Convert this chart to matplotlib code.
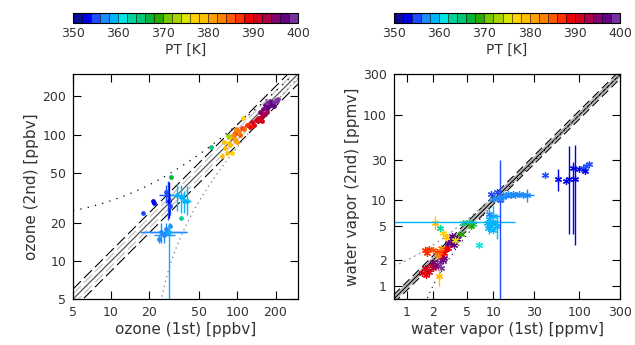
import numpy as np
import matplotlib
matplotlib.use("Agg")
import matplotlib.pyplot as plt
from matplotlib.colors import ListedColormap, BoundaryNorm
from matplotlib.ticker import FixedLocator, FixedFormatter, NullLocator
import matplotlib.colorbar as mcolorbar

plt.rcParams['font.family'] = ['DejaVu Sans']
TXT = '#333333'

# ===== colour scale (PT, 2 K bins) =====
pt_bounds = np.arange(350, 402, 2)
pt_colors = ['#0a0a96', '#0000e6', '#1e4bff', '#1e8cff', '#00b4ff',
             '#00e6e6', '#00d2a0', '#00c878', '#00b43c', '#28aa00',
             '#78c800', '#a8d200', '#dce600', '#ffd200', '#ffbe00',
             '#ffa000', '#ff8200', '#ff5a00', '#ff3200', '#f00000',
             '#d2001e', '#aa0046', '#82006e', '#640082', '#7832a0']
pt_ticks = [350, 360, 370, 380, 390, 400]

# ===== ozone panel =====
o3_x = [165, 170, 175, 180, 185, 190, 195, 200, 205, 185, 175, 170, 210, 195,
        150, 160, 155, 165, 145,
        120, 130, 140, 150, 135, 145, 160, 155, 125, 170,
        100, 108, 112, 118, 105, 95,
        92, 98, 88, 102, 96,
        75, 80, 85, 82, 90, 95, 78, 88, 100, 110, 85,
        84, 62, 30, 36,
        18, 22, 21.5,
        28, 28.5, 29, 27,
        33, 36, 38, 40,
        25, 26, 27, 28, 24, 29, 28.5]
o3_y = [170, 178, 182, 185, 180, 175, 182, 188, 185, 170, 165, 160, 190, 168,
        150, 160, 140, 145, 135,
        118, 125, 130, 135, 120, 128, 145, 128, 115, 150,
        108, 112, 110, 118, 100, 102,
        100, 110, 95, 105, 92,
        68, 78, 85, 72, 72, 90, 88, 83, 88, 135, 95,
        97, 80, 46, 22,
        24, 29, 30,
        33, 30, 27, 35,
        33, 32, 30, 30,
        17, 16, 18, 17, 15, 19, 17]
o3_pt = [397, 398, 399, 398, 397, 399, 398, 399, 398, 397, 396, 396, 399, 397,
         394, 394, 393, 394, 393,
         389, 390, 390, 391, 389, 390, 392, 391, 388, 392,
         385, 386, 385, 387, 384, 384,
         382, 382, 381, 383, 381,
         378, 379, 379, 378, 377, 380, 378, 379, 380, 377, 379,
         372, 364, 366, 362,
         355, 352, 352,
         354, 353, 354, 355,
         359, 359, 358, 359,
         356, 357, 356, 357, 356, 357, 359]
o3_xlo = [0] * 55 + [0, 0, 0, 4, 0, 0, 0, 4, 0, 0, 2, 8, 4, 0, 10, 0, 0, 0]
o3_xhi = [0] * 55 + [0, 0, 0, 4, 0, 0, 0, 5, 0, 0, 3, 15, 6, 0, 12, 0, 0, 0]
o3_ylo = [0] * 55 + [0, 0, 0, 12, 8, 4, 6, 8, 8, 6, 7, 3, 2, 2, 1, 1, 0, 12]
o3_yhi = [0] * 55 + [0, 0, 0, 10, 12, 5, 5, 8, 8, 6, 9, 3, 1, 2, 1, 1, 1, 3]

# ===== water vapour panel =====
h2o_x = [1.5, 1.6, 1.7, 1.8, 1.9, 2.0, 1.65,
         1.6, 1.8, 2.0, 1.7, 2.2,
         2.2, 2.4, 2.6, 2.3, 2.5, 2.7,
         2.0, 2.1, 2.5,
         2.6, 2.8, 3.0, 2.7, 2.4,
         2.3, 2.5,
         3.2, 3.4, 3.6, 3.3, 3.8, 3.0, 3.5,
         3.6, 4.2, 2.1, 2.6, 2.8, 2.35,
         4.5, 5.2, 5.8, 2.4, 6.8, 5.5,
         8.5, 9.0, 9.5, 10.0, 10.5, 11.0, 9.0, 10.0, 8.8, 10.0, 12.0,
         10.0, 11.0, 12.0, 13.0, 14.0, 15.0, 16.0, 17.0, 18.0, 20.0, 22.0, 25.0,
         9.5, 11.0, 40.0,
         56.0, 76.0, 70.0, 85.0, 90.0,
         100.0, 110.0, 115.0, 120.0, 130.0]
h2o_y = [1.4, 1.6, 1.5, 1.45, 1.7, 1.6, 1.35,
         2.6, 2.7, 2.6, 2.4, 2.5,
         1.8, 1.9, 2.0, 1.7, 1.6, 2.1,
         1.9, 1.7, 2.2,
         2.6, 2.7, 2.8, 2.4, 2.5,
         2.3, 2.8,
         3.3, 3.6, 3.4, 3.8, 3.5, 3.2, 3.0,
         3.4, 4.0, 5.5, 4.2, 3.7, 1.3,
         5.5, 5.6, 5.3, 4.8, 3.0, 5.0,
         5.5, 6.0, 5.0, 6.5, 5.5, 5.0, 7.0, 4.5, 4.8, 5.6, 10.0,
         10.5, 10.8, 11.0, 11.0, 11.5, 12.0, 11.5, 12.0, 11.5, 12.0, 11.5, 11.5,
         12.0, 12.5, 20.0,
         18.0, 18.0, 17.0, 24.0, 18.0,
         23.0, 24.0, 22.0, 25.0, 27.0]
h2o_pt = [390, 390, 389, 390, 391, 390, 389,
          386, 386, 385, 386, 387,
          398, 398, 397, 398, 399, 397,
          394, 394, 393,
          388, 388, 389, 388, 387,
          382, 382,
          396, 396, 397, 396, 397, 396, 397,
          374, 369, 378, 377, 378, 379,
          364, 364, 365, 363, 361, 368,
          358, 358, 358, 358, 358, 358, 357, 358, 358, 359, 355,
          357, 357, 357, 357, 357, 357, 357, 357, 357, 357, 357, 357,
          354, 354, 354,
          352, 353, 353, 352, 352,
          353, 354, 353, 354, 355]
h2o_xlo = [0] * 47 + [0, 0, 0, 1, 0, 0, 0, 0, 0, 9.3, 0,
                     0, 0, 0, 2, 0, 0, 0, 0, 0, 0, 0, 4,
                     0, 0, 0, 0, 0, 0, 0, 0, 0, 0, 0, 0, 0]
h2o_xhi = [0] * 47 + [0, 0, 0, 2, 0, 0, 0, 0, 0, 8, 0,
                     0, 0, 0, 3, 0, 0, 0, 0, 0, 0, 0, 5,
                     0, 0, 0, 0, 0, 0, 0, 0, 0, 0, 0, 0, 0]
h2o_ylo = [0] * 35 + [0, 0, 1.0, 0, 0, 0.3,
                     0, 0, 0, 0, 0, 0,
                     0, 2, 0, 1.5, 0, 1.5, 0, 0, 0, 0, 9.3,
                     0, 0, 0, 1.5, 0, 0, 0, 0, 0, 0, 0, 2,
                     0, 0, 0,
                     5, 14, 0, 20, 15,
                     0, 0, 0, 0, 0]
h2o_yhi = [0] * 35 + [0, 0, 1.0, 0, 0, 0.3,
                     0, 0, 0, 0, 0, 0,
                     0, 2, 0, 2, 0, 2, 0, 0, 0, 0, 20,
                     0, 0, 0, 1.5, 0, 0, 0, 0, 0, 0, 0, 2,
                     0, 0, 0,
                     5, 25, 0, 4, 27,
                     0, 0, 0, 0, 0]

cmap = ListedColormap(pt_colors)
norm = BoundaryNorm(pt_bounds, cmap.N)


def colorbar(fig, rect):
    cax = fig.add_axes(rect)
    cb = mcolorbar.ColorbarBase(cax, cmap=cmap, norm=norm, orientation='horizontal',
                                ticks=pt_ticks, drawedges=True)
    cb.dividers.set_linewidth(0.4)
    cb.outline.set_linewidth(0.8)
    cax.tick_params(length=0, labelsize=9, labelcolor=TXT, pad=3)
    cax.xaxis.set_minor_locator(NullLocator())
    cb.set_label('PT [K]', fontsize=10, color=TXT, labelpad=2)


def errpoints(ax, x, y, pt, xlo, xhi, ylo, yhi, marker, ms):
    for i in range(len(x)):
        c = cmap(norm(pt[i]))
        if xlo[i] or xhi[i] or ylo[i] or yhi[i]:
            ax.errorbar(x[i], y[i], xerr=[[xlo[i]], [xhi[i]]], yerr=[[ylo[i]], [yhi[i]]],
                        fmt='none', ecolor=c, elinewidth=1.0, capsize=0)
        ax.plot(x[i], y[i], marker=marker, color=c, ms=ms, mew=0.9, ls='none')


def style(ax, lim, ticks, labels, xlabel, ylabel):
    ax.set_xscale('log')
    ax.set_yscale('log')
    ax.set_xlim(lim)
    ax.set_ylim(lim)
    for axis in (ax.xaxis, ax.yaxis):
        axis.set_major_locator(FixedLocator(ticks))
        axis.set_major_formatter(FixedFormatter(labels))
        axis.set_minor_locator(NullLocator())
    ax.tick_params(direction='in', length=6, width=0.8, top=True, right=True,
                   labelsize=9, labelcolor=TXT, pad=5)
    for s in ax.spines.values():
        s.set_linewidth(0.9)
    ax.set_xlabel(xlabel, fontsize=11, color=TXT, labelpad=2)
    ax.set_ylabel(ylabel, fontsize=11, color=TXT, labelpad=2)


fig = plt.figure(figsize=(6.35, 3.45), dpi=100)

# ----- left: ozone -----
ax1 = fig.add_axes([0.115, 0.133, 0.354, 0.652])
xs = np.logspace(np.log10(5), np.log10(300), 300)
ax1.plot(xs, xs * 1.1, color='#bbbbbb', lw=0.8, dashes=(10, 4))
ax1.plot(xs, xs / 1.1, color='#bbbbbb', lw=0.8, dashes=(10, 4))
ax1.plot(xs, xs * 1.2, color='k', lw=0.8, dashes=(10, 4))
ax1.plot(xs, xs / 1.2, color='k', lw=0.8, dashes=(10, 4))
ax1.plot(xs, xs, color='#555555', lw=0.9)
ax1.plot(xs, xs + 20, color='k', lw=0.9, ls=(0, (1, 5)))
lo = xs - 20
ax1.plot(xs[lo > 0], lo[lo > 0], color='#777777', lw=0.9, ls=(0, (1, 3)))
errpoints(ax1, o3_x, o3_y, o3_pt, o3_xlo, o3_xhi, o3_ylo, o3_yhi, 'o', 2.5)
style(ax1, (5, 300), [5, 10, 20, 50, 100, 200], ['5', '10', '20', '50', '100', '200'],
      'ozone (1st) [ppbv]', 'ozone (2nd) [ppbv]')
colorbar(fig, [0.115, 0.933, 0.354, 0.03])

# ----- right: water vapour -----
ax2 = fig.add_axes([0.620, 0.133, 0.357, 0.652])
xs = np.logspace(np.log10(0.7), np.log10(300), 300)
ax2.plot(xs, xs * 1.06, color='#aaaaaa', lw=0.8)
ax2.plot(xs, xs / 1.06, color='#aaaaaa', lw=0.8)
ax2.plot(xs, xs * 1.12, color='k', lw=0.8, dashes=(8, 4))
ax2.plot(xs, xs / 1.12, color='k', lw=0.8, dashes=(8, 4))
ax2.plot(xs, xs, color='k', lw=0.9)
ax2.plot(xs, xs + 1, color='#999999', lw=0.8, ls=(0, (2, 3)))
lo = xs - 1
ax2.plot(xs[lo > 0], lo[lo > 0], color='k', lw=0.8, ls=(0, (1, 4)))
errpoints(ax2, h2o_x, h2o_y, h2o_pt, h2o_xlo, h2o_xhi, h2o_ylo, h2o_yhi, (6, 2, 0), 5)
style(ax2, (0.7, 300), [1, 2, 5, 10, 30, 100, 300], ['1', '2', '5', '10', '30', '100', '300'],
      'water vapor (1st) [ppmv]', 'water vapor (2nd) [ppmv]')
colorbar(fig, [0.620, 0.933, 0.357, 0.03])

fig.savefig('out.png', dpi=100)
